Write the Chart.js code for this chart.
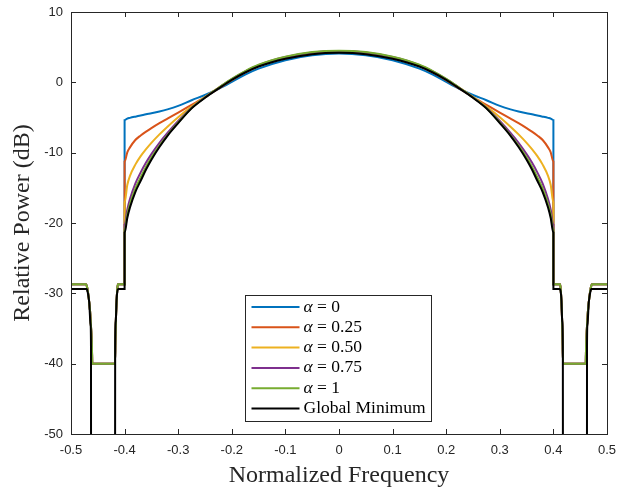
<!DOCTYPE html>
<html><head><meta charset="utf-8">
<script src="https://cdn.jsdelivr.net/npm/chart.js@4/dist/chart.umd.min.js"></script>
<style>html,body{margin:0;padding:0;background:#fff;}canvas{display:block}</style>
</head><body>
<canvas id="c" width="618" height="495"></canvas>
<script>
// ---------- data ----------
const seriesLabels = ['α = 0', 'α = 0.25', 'α = 0.50', 'α = 0.75', 'α = 1', 'Global Minimum'];
const xTickValues = [-0.5, -0.4, -0.3, -0.2, -0.1, 0, 0.1, 0.2, 0.3, 0.4, 0.5];
const xTickLabels = ['-0.5', '-0.4', '-0.3', '-0.2', '-0.1', '0', '0.1', '0.2', '0.3', '0.4', '0.5'];
const yTickValues = [-50, -40, -30, -20, -10, 0, 10];
const yTickLabels = ['-50', '-40', '-30', '-20', '-10', '0', '10'];

// in-band frequencies (shared by all curves)
const inbandFreq = [-0.4, -0.395, -0.39, -0.38, -0.37, -0.36, -0.35, -0.335, -0.32, -0.3, -0.275, -0.25, -0.225, -0.2, -0.175, -0.15, -0.1, -0.05, 0,
  0.05, 0.1, 0.15, 0.175, 0.2, 0.225, 0.25, 0.275, 0.3, 0.32, 0.335, 0.35, 0.36, 0.37, 0.38, 0.39, 0.395, 0.4];

const alpha0 = [-5.38, -5.15, -5.05, -4.88, -4.72, -4.55, -4.4, -4.15, -3.85, -3.35, -2.55, -1.8, -0.95, 0.05, 1.1, 1.95, 3.15, 3.85, 4.1,
  3.85, 3.15, 1.95, 1.1, 0.05, -0.95, -1.8, -2.55, -3.35, -3.85, -4.15, -4.4, -4.55, -4.72, -4.88, -5.05, -5.15, -5.38];
const alpha025 = [-11.3, -9.95, -9.25, -8.2, -7.55, -7.0, -6.5, -5.8, -5.15, -4.3, -3.2, -2.1, -0.9, 0.3, 1.4, 2.3, 3.5, 4.15, 4.35,
  4.15, 3.5, 2.3, 1.4, 0.3, -0.9, -2.1, -3.2, -4.3, -5.15, -5.8, -6.5, -7.0, -7.55, -8.2, -9.25, -9.95, -11.3];
const alpha050 = [-17.1, -14.6, -13.3, -11.7, -10.5, -9.5, -8.6, -7.4, -6.3, -4.95, -3.45, -2.1, -0.8, 0.4, 1.5, 2.4, 3.55, 4.2, 4.4,
  4.2, 3.55, 2.4, 1.5, 0.4, -0.8, -2.1, -3.45, -4.95, -6.3, -7.4, -8.6, -9.5, -10.5, -11.7, -13.3, -14.6, -17.1];
const alpha075 = [-20.3, -18.1, -16.6, -14.4, -12.8, -11.4, -10.2, -8.6, -7.2, -5.5, -3.6, -2.15, -0.8, 0.45, 1.55, 2.45, 3.6, 4.25, 4.45,
  4.25, 3.6, 2.45, 1.55, 0.45, -0.8, -2.15, -3.6, -5.5, -7.2, -8.6, -10.2, -11.4, -12.8, -14.4, -16.6, -18.1, -20.3];
const alpha1 = [-21.0, -18.8, -17.3, -15.1, -13.5, -12.0, -10.7, -9.0, -7.5, -5.7, -3.65, -2.15, -0.8, 0.5, 1.6, 2.5, 3.65, 4.3, 4.5,
  4.3, 3.65, 2.5, 1.6, 0.5, -0.8, -2.15, -3.65, -5.7, -7.5, -9.0, -10.7, -12.0, -13.5, -15.1, -17.3, -18.8, -21.0];
const globalMin = [-21.4, -19.3, -17.8, -15.6, -14.0, -12.4, -11.0, -9.2, -7.6, -5.8, -3.7, -2.2, -0.9, 0.35, 1.4, 2.25, 3.35, 4.0, 4.2,
  4.0, 3.35, 2.25, 1.4, 0.35, -0.9, -2.2, -3.7, -5.8, -7.6, -9.2, -11.0, -12.4, -14.0, -15.6, -17.8, -19.3, -21.4];

// out-of-band part shared by the alpha designs
const maskLeftFreq = [-0.5, -0.472, -0.4695, -0.467, -0.4645, -0.4625, -0.461, -0.4603, -0.418, -0.4172, -0.4165, -0.415, -0.4135, -0.4125, -0.4];
const maskLeftVal = [-28.7, -28.7, -29.3, -30.6, -32.5, -35, -37.5, -40, -40, -37, -34.5, -31.2, -29.3, -28.7, -28.7];
const maskRightFreq = [0.4, 0.4125, 0.4135, 0.415, 0.4165, 0.4172, 0.418, 0.4603, 0.461, 0.4625, 0.4645, 0.467, 0.4695, 0.472, 0.5];
const maskRightVal = [-28.7, -28.7, -29.3, -31.2, -34.5, -37, -40, -40, -37.5, -35, -32.5, -30.6, -29.3, -28.7, -28.7];

// out-of-band part of the global minimum (nulls drop below the axis)
const minLeftFreq = [-0.5, -0.4705, -0.469, -0.466, -0.4635, -0.4627, -0.4625, -0.418, -0.4176, -0.4165, -0.415, -0.4135, -0.412, -0.4];
const minLeftVal = [-29.4, -29.4, -29.8, -31.3, -34.4, -37.5, -80, -80, -37.5, -34, -31, -29.7, -29.4, -29.4];
const minRightFreq = [0.4, 0.412, 0.4135, 0.415, 0.4165, 0.4176, 0.418, 0.4625, 0.4627, 0.4635, 0.466, 0.469, 0.4705, 0.5];
const minRightVal = [-29.4, -29.4, -29.7, -31, -34, -37.5, -80, -80, -37.5, -34.4, -31.3, -29.8, -29.4, -29.4];

const seriesColors = ['#0072BD', '#D95319', '#EDB120', '#7E2F8E', '#77AC30', '#000000'];

// ---------- build ----------
function pts(fs, vs) { return fs.map((f, i) => ({x: f, y: vs[i]})); }
function alphaSeries(vals) {
  return pts(maskLeftFreq, maskLeftVal).concat(pts(inbandFreq, vals), pts(maskRightFreq, maskRightVal));
}
const seriesData = [
  alphaSeries(alpha0), alphaSeries(alpha025), alphaSeries(alpha050), alphaSeries(alpha075), alphaSeries(alpha1),
  pts(minLeftFreq, minLeftVal).concat(pts(inbandFreq, globalMin), pts(minRightFreq, minRightVal))
];

const AX = '#262626';
const datasets = seriesData.map((d, i) => ({
  label: seriesLabels[i], data: d, borderColor: seriesColors[i], backgroundColor: seriesColors[i],
  borderWidth: 2, pointRadius: 0, fill: false, cubicInterpolationMode: 'monotone',
  order: seriesData.length - 1 - i
}));

const framePlugin = {
  id: 'frame',
  afterDatasetsDraw(chart) {
    const {ctx, chartArea: a, scales: {x, y}} = chart;
    ctx.save();
    ctx.strokeStyle = AX; ctx.lineWidth = 1;
    ctx.strokeRect(Math.round(a.left) + 0.5, Math.round(a.top) + 0.5, Math.round(a.right - a.left), Math.round(a.bottom - a.top));
    ctx.beginPath();
    const tl = 5;
    xTickValues.forEach(v => {
      const px = Math.round(x.getPixelForValue(v)) + 0.5;
      ctx.moveTo(px, a.bottom); ctx.lineTo(px, a.bottom - tl);
      ctx.moveTo(px, a.top); ctx.lineTo(px, a.top + tl);
    });
    yTickValues.forEach(v => {
      const py = Math.round(y.getPixelForValue(v)) + 0.5;
      ctx.moveTo(a.left, py); ctx.lineTo(a.left + tl, py);
      ctx.moveTo(a.right, py); ctx.lineTo(a.right - tl, py);
    });
    ctx.stroke();
    ctx.restore();
  }
};

const legendPlugin = {
  id: 'boxLegend',
  afterDraw(chart) {
    const {ctx} = chart;
    const L = 245.5, T = 295.5, W = 186, H = 126;
    ctx.save();
    ctx.fillStyle = '#fff'; ctx.fillRect(L, T, W, H);
    ctx.strokeStyle = AX; ctx.lineWidth = 1; ctx.strokeRect(L, T, W, H);
    const fs = 17.5;
    seriesLabels.forEach((lab, i) => {
      const yy = T + 11.5 + i * 20.3;
      ctx.strokeStyle = seriesColors[i]; ctx.lineWidth = 2;
      ctx.beginPath(); ctx.moveTo(L + 6, yy); ctx.lineTo(L + 54, yy); ctx.stroke();
      ctx.fillStyle = '#000'; ctx.textBaseline = 'middle'; ctx.textAlign = 'left';
      let xx = L + 58;
      if (lab.startsWith('α')) {
        ctx.font = 'italic ' + fs + 'px "Liberation Serif"';
        ctx.fillText('α', xx, yy); xx += ctx.measureText('α').width;
        ctx.font = fs + 'px "Liberation Serif"';
        ctx.fillText(lab.slice(1), xx, yy);
      } else {
        ctx.font = fs + 'px "Liberation Serif"';
        ctx.fillText(lab, xx, yy);
      }
    });
    ctx.restore();
  }
};

new Chart(document.getElementById('c'), {
  type: 'line',
  data: {datasets},
  options: {
    responsive: false, animation: false, devicePixelRatio: 1,
    layout: {padding: {top: 12, right: 11, left: 0, bottom: 0}},
    plugins: {legend: {display: false}, tooltip: {enabled: false}},
    scales: {
      x: {
        type: 'linear', min: -0.5, max: 0.5,
        afterBuildTicks: s => { s.ticks = xTickValues.map(v => ({value: v})); },
        afterFit: s => { s.height = 61; s.paddingLeft = 0; s.paddingRight = 0; },
        grid: {display: false, drawTicks: false}, border: {display: false},
        ticks: {autoSkip: false, maxRotation: 0, padding: 9, color: AX, font: {family: '"Liberation Sans", Arial', size: 13},
          callback: (v, i) => xTickLabels[i]},
        title: {display: true, text: 'Normalized Frequency', color: AX, padding: {top: 0, bottom: 5},
          font: {family: '"Liberation Serif"', size: 24, lineHeight: 1.2}}
      },
      y: {
        type: 'linear', min: -50, max: 10,
        afterBuildTicks: s => { s.ticks = yTickValues.map(v => ({value: v})); },
        afterFit: s => { s.width = 71; s.paddingTop = 0; s.paddingBottom = 0; },
        grid: {display: false, drawTicks: false}, border: {display: false},
        ticks: {autoSkip: false, padding: 8, color: AX, font: {family: '"Liberation Sans", Arial', size: 13},
          callback: (v, i) => yTickLabels[i]},
        title: {display: true, text: 'Relative Power (dB)', color: AX, padding: {top: 8, bottom: 0},
          font: {family: '"Liberation Serif"', size: 24, lineHeight: 1.2}}
      }
    }
  },
  plugins: [framePlugin, legendPlugin]
});
</script>
</body></html>
